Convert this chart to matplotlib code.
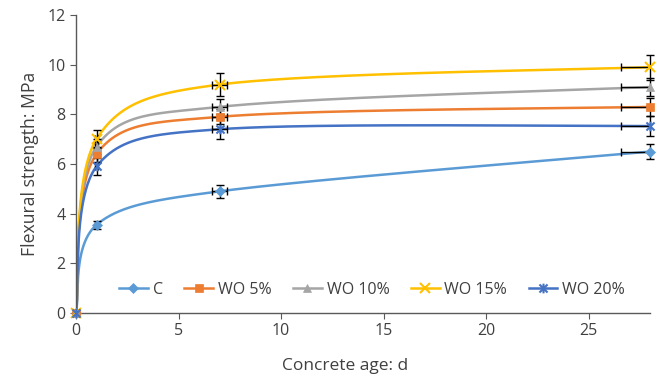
import numpy as np
import matplotlib
matplotlib.use("Agg")
import matplotlib.pyplot as plt
from matplotlib.path import Path

plt.rcParams['font.family'] = ['Open Sans', 'DejaVu Sans']

ages = [0, 1, 7, 28]
series_names = ["C", "WO 5%", "WO 10%", "WO 15%", "WO 20%"]
c_vals = [0, 3.55, 4.9, 6.5]
wo5_vals = [0, 6.4, 7.9, 8.3]
wo10_vals = [0, 6.7, 8.3, 9.1]
wo15_vals = [0, 7.0, 9.2, 9.9]
wo20_vals = [0, 5.9, 7.4, 7.53]
c_err = [0, 0.15, 0.25, 0.3]
wo5_err = [0, 0.3, 0.3, 0.35]
wo10_err = [0, 0.3, 0.3, 0.35]
wo15_err = [0, 0.35, 0.48, 0.5]
wo20_err = [0, 0.35, 0.4, 0.4]
x_err_frac = 0.05
x_ticks = [0, 5, 10, 15, 20, 25]
y_ticks = [0, 2, 4, 6, 8, 10, 12]

values = [c_vals, wo5_vals, wo10_vals, wo15_vals, wo20_vals]
errs = [c_err, wo5_err, wo10_err, wo15_err, wo20_err]
colors = ["#5B9BD5", "#ED7D31", "#A5A5A5", "#FFC000", "#4472C4"]

asterisk = Path([(-1, -1), (1, 1), (-1, 1), (1, -1), (0, -1.2), (0, 1.2)],
                [Path.MOVETO, Path.LINETO, Path.MOVETO, Path.LINETO, Path.MOVETO, Path.LINETO])
markers = ["D", "s", "^", "x", asterisk]
msizes = [5, 6, 6, 7, 7]


fig = plt.figure(figsize=(6.62, 3.79), dpi=100)
ax = fig.add_axes([0.1148, 0.1741, 0.982 - 0.1148, 0.9604 - 0.1741])
ax.set_xlim(0, 28)
ax.set_ylim(0, 12)


def smooth(x, y, n=80):
    # Excel-like Bezier smoothing in screen space (1/6 tension, limited to half segment)
    P = ax.transData.transform(np.column_stack([x, y]))
    m = len(P)
    pts = []
    t = np.linspace(0, 1, n)[:, None]
    for i in range(m - 1):
        p0 = P[i - 1] if i > 0 else P[i]
        p1 = P[i]
        p2 = P[i + 1]
        p3 = P[i + 2] if i + 2 < m else P[i + 1]
        d12 = np.hypot(*(p2 - p1))
        v1 = (p2 - p0) / 6.0
        v2 = (p3 - p1) / 6.0
        l1 = np.hypot(*v1)
        l2 = np.hypot(*v2)
        if l1 > d12 / 2:
            v1 = v1 * (d12 / 2) / l1
        if l2 > d12 / 2:
            v2 = v2 * (d12 / 2) / l2
        c1 = p1 + v1
        c2 = p2 - v2
        b = ((1 - t) ** 3) * p1 + 3 * ((1 - t) ** 2) * t * c1 + 3 * (1 - t) * t ** 2 * c2 + t ** 3 * p2
        pts.append(b if i == 0 else b[1:])
    pts = np.vstack(pts)
    data = ax.transData.inverted().transform(pts)
    return data[:, 0], data[:, 1]


def unclip(container):
    for part in container.lines:
        if part is None:
            continue
        items = part if isinstance(part, (tuple, list)) else [part]
        for it in items:
            it.set_clip_on(False)


for name, vals, err, col, mk, ms in zip(series_names, values, errs, colors, markers, msizes):
    sx, sy = smooth(ages, vals)
    ax.plot(sx, sy, color=col, lw=1.8, zorder=2)
    xe = [a * x_err_frac for a in ages]
    ax.errorbar(ages, vals, xerr=xe, fmt='none', ecolor='black',
                elinewidth=1.0, capsize=3, capthick=1.0, zorder=3)
    eb = ax.errorbar(ages, vals, yerr=err, fmt='none', ecolor='black',
                     elinewidth=1.0, capsize=3, capthick=1.0, zorder=3)
    unclip(eb)
    line_mk = mk in ('x',) or isinstance(mk, Path)
    ax.plot(ages, vals, linestyle='none', marker=mk, color=col, markersize=ms,
            markeredgewidth=1.5 if line_mk else 0.5, zorder=4, clip_on=False)
    ax.plot([], [], color=col, lw=1.8, marker=mk, markersize=ms,
            markeredgewidth=1.5 if line_mk else 0.5, label=name)

ax.set_xticks(x_ticks)
ax.set_yticks(y_ticks)
for s in ['top', 'right']:
    ax.spines[s].set_visible(False)
for s in ['left', 'bottom']:
    ax.spines[s].set_color('#595959')
    ax.spines[s].set_linewidth(1.0)
ax.tick_params(axis='both', direction='out', length=4, color='#595959',
               labelsize=11.5, labelcolor='#404040')
ax.set_xlabel("Concrete age: d", fontsize=12.5, color='#404040')
ax.xaxis.set_label_coords((345.5 - 76) / 574, -0.152)
ax.set_ylabel("Flexural strength: MPa", fontsize=12.7, color='#404040', labelpad=6)

leg = ax.legend(loc='center', bbox_to_anchor=((372 - 76) / 574, (313 - 290) / 298), ncol=5, frameon=False,
                fontsize=11.5, handlelength=1.8, columnspacing=1.35, handletextpad=0.3)
for t in leg.get_texts():
    t.set_color('#404040')

fig.savefig("out.png", dpi=100)
